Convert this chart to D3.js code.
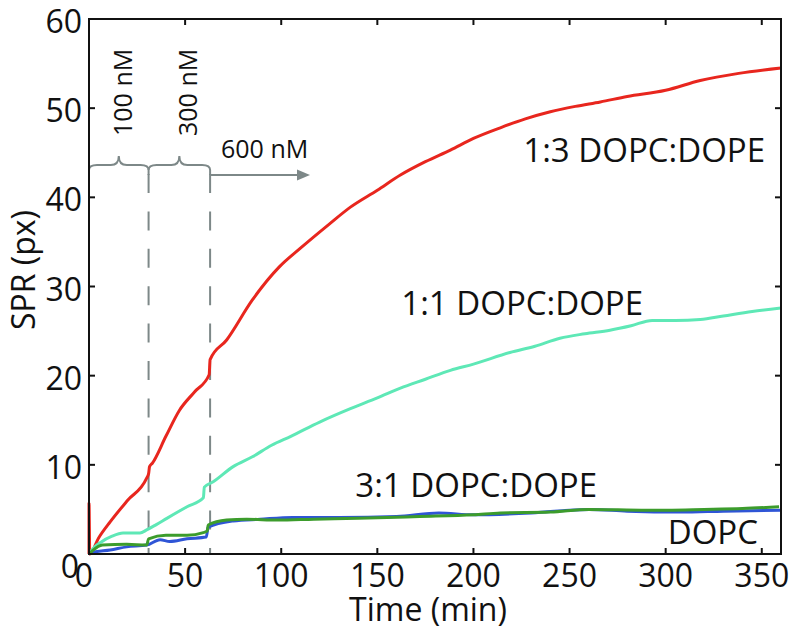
<!DOCTYPE html>
<html><head><meta charset="utf-8">
<script src="https://cdn.jsdelivr.net/npm/d3@7"></script>
<style>body{margin:0;background:#fff}svg{display:block}text{font-family:"Open Sans",sans-serif;fill:#111}</style>
</head><body>
<svg id="c" width="793" height="631"></svg>
<script>
// ---- data ----
const xTicks = [0,50,100,150,200,250,300,350];
const yTicks = [0,10,20,30,40,50,60];
const redT = [0,0,0.4,5,11,20,30,31,31.5,33,40,47,55,62.5,63,71.6,85,99,110,125,136,150,162,175,188,200,214,227,240,253,266,280,300,318,338,360];
const redV = [0,5.7,0,1.8,3.6,6.0,8.5,9.0,9.8,10.2,13.2,16.1,18.2,20.1,21.8,24,28.5,32.2,34.3,37,38.9,40.8,42.5,44,45.3,46.6,47.8,48.8,49.6,50.2,50.7,51.3,52.0,53.1,53.9,54.5];
const cyanT = [0,3,6,12,17.7,26.5,30,35,40.5,51,59.5,60,64.6,75,85,95,105,120,136,150,162,175,188,200,219,232,245,258,271,282,293,305,318,330,345,360];
const cyanV = [0,0.8,1.3,2.0,2.35,2.35,2.7,3.3,4.0,5.3,6.3,7.5,8.1,9.8,10.9,12.2,13.2,14.8,16.3,17.5,18.6,19.6,20.6,21.3,22.6,23.3,24.2,24.7,25.1,25.6,26.2,26.2,26.3,26.7,27.2,27.6];
const blueT = [0,2,11,19.6,30,37,42,51,61,62,75,89,106,130,160,182,200,230,260,280,308,330,360];
const blueV = [0,0.2,0.45,0.8,1.0,1.6,1.4,1.7,1.9,3.0,3.7,3.9,4.1,4.1,4.2,4.6,4.4,4.6,5.0,4.8,4.7,4.8,4.9];
const greenT = [0,2,7,19.6,30,31,40,51,59.5,61.5,62,71.6,82,98,117,140,172,200,214,240,260,290,320,340,359];
const greenV = [0,0.4,1.0,1.1,1.0,1.7,2.1,2.1,2.4,2.6,3.25,3.8,3.9,3.8,3.9,4.0,4.2,4.4,4.6,4.7,5.0,4.9,5.0,5.1,5.3];
const seriesNames = ["1:3 DOPC:DOPE","1:1 DOPC:DOPE","3:1 DOPC:DOPE","DOPC"];
const doseTimes = [31,63];
const doseLabels = ["100 nM","300 nM","600 nM"];

// ---- layout ----
const svg = d3.select("#c");
const L=89, R=781, T=19, B=554;
const x = d3.scaleLinear().domain([0,360]).range([L,R]);
const y = d3.scaleLinear().domain([0,60]).range([B,T]);
const gray = "#7d8888";

const line = d3.line().x(d=>x(d[0])).y(d=>y(d[1])).curve(d3.curveMonotoneX);
const zip = (a,b)=>a.map((t,i)=>[t,b[i]]);
const curves = [
  {d:zip(redT,redV), c:"#e8261e"},
  {d:zip(cyanT,cyanV), c:"#5ee8b6"},
  {d:zip(blueT,blueV), c:"#2f55d6"},
  {d:zip(greenT,greenV), c:"#3c9c2c"}
];

// dashed dose lines
doseTimes.forEach(t=>{
  svg.append("line").attr("x1",x(t)).attr("x2",x(t)).attr("y1",170).attr("y2",175)
    .attr("stroke",gray).attr("stroke-width",2);
  svg.append("line").attr("x1",x(t)).attr("x2",x(t)).attr("y1",174).attr("y2",B)
    .attr("stroke",gray).attr("stroke-width",2).attr("stroke-dasharray","19 18.4");
});

curves.forEach(s=>{
  svg.append("path").attr("d",line(s.d)).attr("fill","none").attr("stroke",s.c)
    .attr("stroke-width",3).attr("stroke-linejoin","round");
});

// braces
function brace(xa,xb,yb){
  const xm=(xa+xb)/2, r=8, h=9, e=5;
  return `M${xa},${yb+e} Q${xa},${yb} ${xa+r},${yb} L${xm-r},${yb} Q${xm},${yb} ${xm},${yb-h} Q${xm},${yb} ${xm+r},${yb} L${xb-r},${yb} Q${xb},${yb} ${xb},${yb+e}`;
}
const braceY = 165;
const bounds = [0].concat(doseTimes);
for(let i=0;i<2;i++){
  const xa=x(bounds[i]), xb=x(bounds[i+1]);
  svg.append("path").attr("d",brace(xa,xb,braceY)).attr("fill","none").attr("stroke",gray).attr("stroke-width",2);
  const xm=(xa+xb)/2;
  svg.append("text").attr("transform",`translate(${xm+13+i*5},136) rotate(-90)`)
    .attr("font-size",25).text(doseLabels[i]);
}
// arrow
const ax0 = x(doseTimes[1]), ax1 = 310, ay = 175;
svg.append("line").attr("x1",ax0).attr("x2",ax1-10).attr("y1",ay).attr("y2",ay).attr("stroke",gray).attr("stroke-width",2);
svg.append("path").attr("d",`M${ax1},${ay} L${ax1-13},${ay-5.5} L${ax1-13},${ay+5.5} Z`).attr("fill",gray);
svg.append("text").attr("x",221).attr("y",158).attr("font-size",25).text(doseLabels[2]);

// axes box
svg.append("rect").attr("x",L).attr("y",T).attr("width",R-L).attr("height",B-T)
  .attr("fill","none").attr("stroke","#111").attr("stroke-width",2);
const tl=6;
xTicks.forEach(t=>{
  svg.append("line").attr("x1",x(t)).attr("x2",x(t)).attr("y1",B).attr("y2",B-tl).attr("stroke","#111").attr("stroke-width",2);
  svg.append("line").attr("x1",x(t)).attr("x2",x(t)).attr("y1",T).attr("y2",T+tl).attr("stroke","#111").attr("stroke-width",2);
  svg.append("text").attr("x",t===0?x(t)-5:x(t)).attr("y",587).attr("text-anchor","middle").attr("font-size",32).text(t);
});
yTicks.forEach(v=>{
  svg.append("line").attr("x1",L).attr("x2",L+tl).attr("y1",y(v)).attr("y2",y(v)).attr("stroke","#111").attr("stroke-width",2);
  svg.append("line").attr("x1",R).attr("x2",R-tl).attr("y1",y(v)).attr("y2",y(v)).attr("stroke","#111").attr("stroke-width",2);
  svg.append("text").attr("x",v===0?79:82).attr("y",v===0?y(v)+24:y(v)+14).attr("text-anchor","end").attr("font-size",32).text(v);
});
// axis titles
svg.append("text").attr("x",428).attr("y",621).attr("text-anchor","middle").attr("font-size",32).text("Time (min)");
svg.append("text").attr("transform","translate(35,270) rotate(-90)").attr("text-anchor","middle").attr("font-size",32).text("SPR (px)");

// series labels
svg.append("text").attr("x",765).attr("y",162).attr("text-anchor","end").attr("font-size",33).text(seriesNames[0]);
svg.append("text").attr("x",643).attr("y",315).attr("text-anchor","end").attr("font-size",33).text(seriesNames[1]);
svg.append("text").attr("x",597).attr("y",497).attr("text-anchor","end").attr("font-size",33).text(seriesNames[2]);
svg.append("text").attr("x",758).attr("y",544).attr("text-anchor","end").attr("font-size",33).text(seriesNames[3]);
</script>
</body></html>
